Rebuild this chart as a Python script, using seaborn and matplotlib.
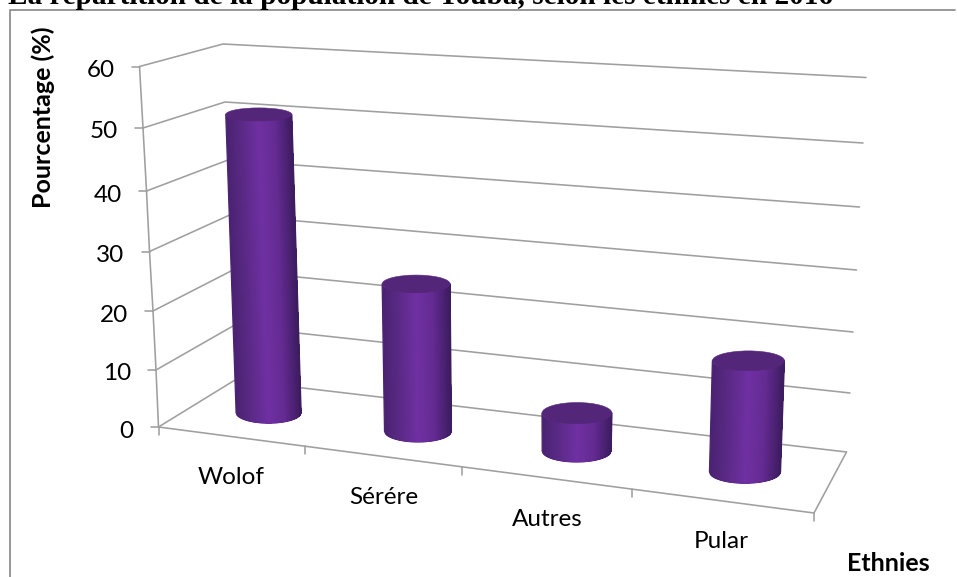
import numpy as np
import pandas as pd
import matplotlib
matplotlib.use("Agg")
import matplotlib.pyplot as plt
from matplotlib.collections import PolyCollection, LineCollection
from matplotlib.patches import Ellipse
import seaborn as sns

# ---- data ----
categories = ["Wolof", "Sérére", "Autres", "Pular"]
values = [51, 25, 6, 18]
y_ticks = [0, 10, 20, 30, 40, 50, 60]
title = "La répartition de la population de Touba, selon les ethnies en 2016"
y_title = "Pourcentage (%)"
x_title = "Ethnies"

sns.set_theme(style="white")
plt.rcParams["font.family"] = ["Lato", "DejaVu Sans"]

fig = plt.figure(figsize=(9.57, 5.77), dpi=100)
ax = fig.add_axes([0, 0, 1, 1])
ax.set_xlim(0, 957)
ax.set_ylim(577, 0)
ax.axis("off")

LINE = "#9f9f9f"
LW = 1.15

# ---- 3-D box geometry (pixel frame of the projection) ----
front_left = {0: (158.5, 427), 10: (156, 370), 20: (153, 311), 30: (149.5, 251.5),
              40: (146.5, 191), 50: (143, 128), 60: (139.5, 66.5)}
back_left = {0: (235, 380), 10: (233, 326), 20: (232, 270.5), 30: (229.7, 215),
             40: (228, 160), 50: (225, 102), 60: (223, 44)}
back_right = {0: (846.5, 452), 10: (850, 393), 20: (853, 332), 30: (856.5, 270),
              40: (859.5, 207), 50: (863, 143), 60: (866, 77.5)}
front_right_floor = (814, 513)


def homography(src, dst):
    A, b = [], []
    for (u, v), (x, y) in zip(src, dst):
        A.append([u, v, 1, 0, 0, 0, -u * x, -v * x]); b.append(x)
        A.append([0, 0, 0, u, v, 1, -u * y, -v * y]); b.append(y)
    h = np.linalg.solve(np.array(A, float), np.array(b, float))
    return np.append(h, 1).reshape(3, 3)


H = homography([(0, 0), (1, 0), (1, 1), (0, 1)],
               [front_left[0], front_right_floor, back_right[0], back_left[0]])


def floor(u, d):
    p = H @ np.array([u, d, 1.0])
    return p[:2] / p[2]


# ---- walls and gridlines, one polyline per level ----
rows = []
for lv in y_ticks:
    for k, p in enumerate([front_left[lv], back_left[lv], back_right[lv]]):
        rows.append({"x": p[0], "y": p[1], "line": f"g{lv}", "o": k})
    rows.append({"x": front_left[lv][0], "y": front_left[lv][1], "line": f"t{lv}", "o": 0})
    rows.append({"x": front_left[lv][0] - 8, "y": front_left[lv][1], "line": f"t{lv}", "o": 1})
for k, lv in enumerate(y_ticks):
    rows.append({"x": front_left[lv][0], "y": front_left[lv][1], "line": "axis", "o": k})
outline = [front_left[0], front_right_floor, back_right[0]]
for k, p in enumerate(outline):
    rows.append({"x": p[0], "y": p[1], "line": "floor", "o": k})
for j in range(len(categories) + 1):
    p = floor(j / len(categories), 0)
    rows.append({"x": p[0], "y": p[1], "line": f"c{j}", "o": 0})
    rows.append({"x": p[0], "y": p[1] + 8, "line": f"c{j}", "o": 1})
frame = pd.DataFrame(rows)
sns.lineplot(data=frame, x="x", y="y", units="line", estimator=None, sort=False,
             color=LINE, linewidth=LW, ax=ax, legend=False, zorder=1)
ax.set_xlim(0, 957)
ax.set_ylim(577, 0)

# ---- outer chart border ----
ax.plot([9.5, 9.5, 955], [577, 9.5, 9.5], color="#868686", lw=1.2, zorder=1)

# ---- cylinders ----
stops = sns.blend_palette(["#4b2372", "#5c2a88", "#7030a3", "#642b92", "#3d1c60"], 64)


def shade(s):
    return stops[int(np.clip(s, 0, 0.999) * 64)]


def ry_at(y):
    return 5 + 0.0135 * y


def rx_at(x):
    return 32.5 + (x - 265) * 0.0063


lean = 0.000804  # sideways drift of a vertical per unit value and pixel from the vanishing column
slot_nudge = [0.0035, 0.0068, 0.0079, 0.0059]
for i, v in enumerate(values):
    bx, by = floor((i + 0.5) / len(values) + slot_nudge[i], 0.48)
    scale = np.interp(by, [412, 432, 452, 472], [5.82, 5.84, 6.1, 6.1])
    tx = bx + lean * (bx - 509) * v
    ty = by - scale * v - 1.2
    rb, rt = rx_at(bx), rx_at(bx) + 0.5
    hb, ht = ry_at(by), ry_at(ty)
    # painter's order: each strip reaches to the far right side, so no seams show
    th = np.pi - np.arccos(np.linspace(1, -1, 65))
    polys, cols = [], []
    for k in range(64):
        arc = np.linspace(th[k], 0, 50)
        low = np.c_[bx + rb * np.cos(arc), by + hb * np.sin(arc)]
        up = np.c_[tx + rt * np.cos(arc[::-1]), ty + ht * np.sin(arc[::-1])]
        polys.append(np.vstack([low, up]))
        cols.append(shade((k + 0.5) / 64))
    ax.add_collection(PolyCollection(polys, facecolors=cols, edgecolors="none",
                                     linewidths=0, zorder=3))
    # a thin stroke along the silhouette keeps its edge smooth
    rim = np.c_[bx + rb * np.cos(th), by + hb * np.sin(th)]
    segs = [rim[k:k + 2] for k in range(64)]
    segs.append(np.array([(bx - rb, by), (tx - rt, ty)]))
    segs.append(np.array([(bx + rb, by), (tx + rt, ty)]))
    seg_cols = cols + [stops[0], stops[-1]]
    ax.add_collection(LineCollection(segs, colors=seg_cols, linewidths=0.9,
                                     capstyle="round", zorder=3.5))
    ax.add_patch(Ellipse((tx, ty), 2 * rt, 2 * ht, facecolor="#54267a",
                         edgecolor="#54267a", lw=0.4, zorder=4))

# ---- text ----
lab = dict(color="black", fontsize=17.5)
for lv in y_ticks:
    fx, fy = front_left[lv]
    ax.text(fx - 25, fy + 4, str(lv), ha="right", va="center", **lab)
for name, dx, dy in zip(categories, [231.5, 384, 547.5, 721], [477, 498, 520, 542]):
    ax.text(dx, dy, name, ha="center", va="center", **lab)
ax.text(43, 117, y_title, rotation=90, ha="center", va="center", fontsize=18,
        fontweight="bold", color="black")
ax.text(888, 563.5, x_title, ha="center", va="center", fontsize=18,
        fontweight="bold", color="black")
ax.text(8, 3.5, title, ha="left", va="baseline", family="Liberation Serif",
        fontweight="bold", fontsize=21.1, color="black")

fig.savefig("out.png", dpi=100, facecolor="white")
